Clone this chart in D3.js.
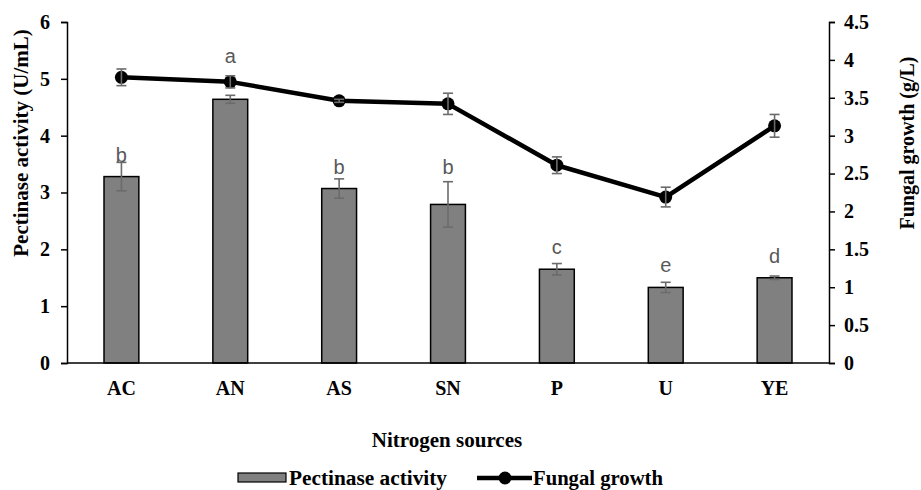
<!DOCTYPE html>
<meta charset="utf-8">
<head>
  <title>Nitrogen sources</title>
</head>
<style>
body { margin: 0; background: #fff; }
svg text { font-family: "Liberation Serif", "Times New Roman", serif; font-weight: bold; fill: #000; }
svg text.sig { font-family: "Liberation Sans", Arial, sans-serif; font-weight: normal; fill: #595959; }
</style>
<body>
<div id="content"></div>
<script src="https://cdnjs.cloudflare.com/ajax/libs/d3/7.8.5/d3.min.js"></script>
<script>
var sources = ['AC', 'AN', 'AS', 'SN', 'P', 'U', 'YE'];
var pectinase = [3.28, 4.64, 3.07, 2.79, 1.65, 1.33, 1.50];
var pectinaseErr = [0.25, 0.07, 0.17, 0.40, 0.10, 0.09, 0.03];
var letters = ['b', 'a', 'b', 'b', 'c', 'e', 'd'];
var growth = [3.77, 3.71, 3.46, 3.42, 2.61, 2.19, 3.13];
var growthErr = [0.11, 0.08, 0.02, 0.14, 0.11, 0.13, 0.15];
var leftTicks = [0, 1, 2, 3, 4, 5, 6];
var rightTicks = [0, 0.5, 1, 1.5, 2, 2.5, 3, 3.5, 4, 4.5];

var W = 921, H = 490;
var margin = {left: 67, right: 92, top: 22, bottom: 127};
var plotW = W - margin.left - margin.right;
var plotH = H - margin.top - margin.bottom;

var svg = d3.select('#content').append('svg')
  .attr('width', W).attr('height', H);

var g = svg.append('g').attr('transform', 'translate(' + margin.left + ',' + margin.top + ')');

var x = d3.scaleBand().domain(sources).range([0, plotW]).padding(0);
var bw = x.bandwidth() * 0.32;
var cx = function(d) { return x(d) + x.bandwidth() / 2; };
var yL = d3.scaleLinear().domain([0, 6]).range([plotH, 0]);
var yR = d3.scaleLinear().domain([0, 4.5]).range([plotH, 0]);

// Bars
g.selectAll('rect.bar').data(sources).enter().append('rect')
  .attr('class', 'bar')
  .attr('x', function(d) { return cx(d) - bw / 2; })
  .attr('y', function(d, i) { return yL(pectinase[i]); })
  .attr('width', bw)
  .attr('height', function(d, i) { return plotH - yL(pectinase[i]); })
  .attr('fill', '#808080')
  .attr('stroke', '#000')
  .attr('stroke-width', 1.5);

function errBars(vals, errs, scale, cls) {
  var e = g.selectAll('g.' + cls).data(sources).enter().append('g').attr('class', cls)
    .attr('stroke', '#6b6b6b').attr('stroke-width', 1.6);
  e.append('line')
    .attr('x1', cx).attr('x2', cx)
    .attr('y1', function(d, i) { return scale(vals[i] + errs[i]); })
    .attr('y2', function(d, i) { return scale(vals[i] - errs[i]); });
  [1, -1].forEach(function(s) {
    e.append('line')
      .attr('x1', function(d) { return cx(d) - 5; })
      .attr('x2', function(d) { return cx(d) + 5; })
      .attr('y1', function(d, i) { return scale(vals[i] + s * errs[i]); })
      .attr('y2', function(d, i) { return scale(vals[i] + s * errs[i]); });
  });
}
errBars(pectinase, pectinaseErr, yL, 'perr');

// Significance letters: above the bar, lifted over a long error bar or the growth marker
function letterY(i) {
  var y = yL(pectinase[i]) - 15;
  var errTop = yL(pectinase[i] + pectinaseErr[i]);
  if (errTop < y - 2) y = errTop - 8;
  var gTop = yR(growth[i] + growthErr[i]), gBot = yR(growth[i] - growthErr[i]);
  if (gBot > y - 20 && gTop < y + 5) y = gTop - 13;
  return y;
}
g.selectAll('text.sig').data(sources).enter().append('text')
  .attr('class', 'sig')
  .attr('x', cx)
  .attr('y', function(d, i) { return letterY(i); })
  .attr('text-anchor', 'middle')
  .attr('font-size', 20)
  .text(function(d, i) { return letters[i]; });

// Fungal growth line
var line = d3.line()
  .x(function(d) { return cx(d); })
  .y(function(d, i) { return yR(growth[i]); });
g.append('path').datum(sources)
  .attr('d', line)
  .attr('fill', 'none')
  .attr('stroke', '#000')
  .attr('stroke-width', 4.5)
  .attr('stroke-linejoin', 'round');
g.selectAll('circle.pt').data(sources).enter().append('circle')
  .attr('class', 'pt')
  .attr('cx', cx)
  .attr('cy', function(d, i) { return yR(growth[i]); })
  .attr('r', 6.5)
  .attr('fill', '#000');
errBars(growth, growthErr, yR, 'gerr');

// Axes
var axL = g.append('g')
  .call(d3.axisLeft(yL).tickValues(leftTicks).tickSize(6).tickPadding(11).tickFormat(d3.format('d')));
var axR = g.append('g').attr('transform', 'translate(' + plotW + ',0)')
  .call(d3.axisRight(yR).tickValues(rightTicks).tickSize(6).tickPadding(9).tickFormat(function(d) { return String(d); }));
[axL, axR].forEach(function(ax) {
  ax.attr('font-family', null).attr('font-size', null);
  ax.select('.domain').attr('stroke', '#000').attr('stroke-width', 1.5);
  ax.selectAll('.tick line').attr('stroke', '#000').attr('stroke-width', 1.5);
  ax.selectAll('.tick text').attr('font-size', 20).attr('fill', '#000');
});

g.append('line')
  .attr('x1', 0).attr('x2', plotW).attr('y1', plotH).attr('y2', plotH)
  .attr('stroke', '#000').attr('stroke-width', 1.5);

g.selectAll('text.cat').data(sources).enter().append('text')
  .attr('class', 'cat')
  .attr('x', cx)
  .attr('y', plotH + 32)
  .attr('text-anchor', 'middle')
  .attr('font-size', 20)
  .text(function(d) { return d; });

// Axis titles
svg.append('text')
  .attr('transform', 'translate(28,143) rotate(-90)')
  .attr('text-anchor', 'middle')
  .attr('font-size', 21)
  .text('Pectinase activity (U/mL)');
svg.append('text')
  .attr('transform', 'translate(914,143) rotate(-90)')
  .attr('text-anchor', 'middle')
  .attr('font-size', 20)
  .text('Fungal growth (g/L)');
svg.append('text')
  .attr('x', 447).attr('y', 447)
  .attr('text-anchor', 'middle')
  .attr('font-size', 21)
  .text('Nitrogen sources');

// Legend
var lg = svg.append('g');
lg.append('rect')
  .attr('x', 238).attr('y', 473).attr('width', 48).attr('height', 9)
  .attr('fill', '#808080').attr('stroke', '#000').attr('stroke-width', 1.2);
lg.append('text').attr('x', 289).attr('y', 485).attr('font-size', 20)
  .attr('textLength', 158).attr('lengthAdjust', 'spacingAndGlyphs').text('Pectinase activity');
lg.append('line')
  .attr('x1', 477).attr('x2', 532).attr('y1', 478).attr('y2', 478)
  .attr('stroke', '#000').attr('stroke-width', 4.5);
lg.append('circle').attr('cx', 505).attr('cy', 478).attr('r', 6.5).attr('fill', '#000');
lg.append('text').attr('x', 533).attr('y', 485).attr('font-size', 20)
  .attr('textLength', 130).attr('lengthAdjust', 'spacingAndGlyphs').text('Fungal growth');
</script>
</body>
</html>
